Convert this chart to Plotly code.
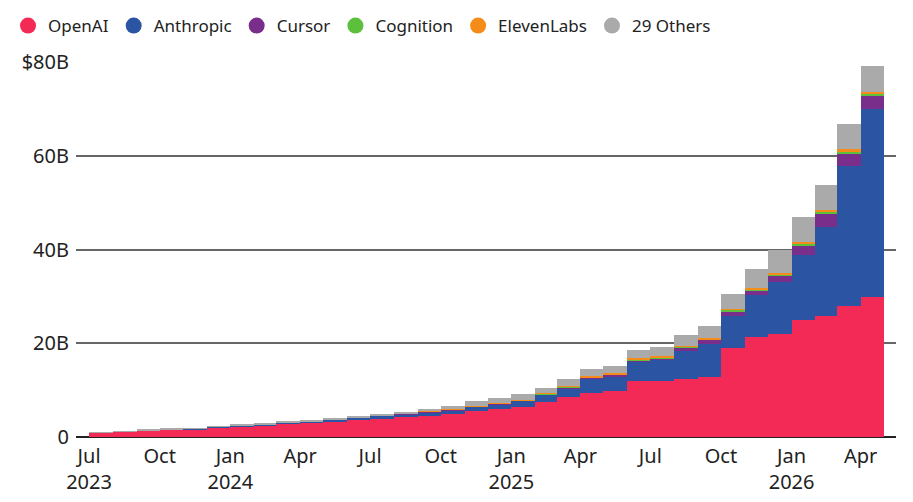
import pandas as pd
import plotly.graph_objects as go

# monthly run-rate revenue, $B
months = ["2023-07", "2023-08", "2023-09", "2023-10", "2023-11", "2023-12",
          "2024-01", "2024-02", "2024-03", "2024-04", "2024-05", "2024-06",
          "2024-07", "2024-08", "2024-09", "2024-10", "2024-11", "2024-12",
          "2025-01", "2025-02", "2025-03", "2025-04", "2025-05", "2025-06",
          "2025-07", "2025-08", "2025-09", "2025-10", "2025-11", "2025-12",
          "2026-01", "2026-02", "2026-03", "2026-04"]

openai = [0.9, 1.1, 1.3, 1.5, 1.6, 2.0, 2.3, 2.5, 2.8, 3.0, 3.3, 3.6,
          3.9, 4.2, 4.5, 4.9, 5.5, 6.0, 6.5, 7.5, 8.45, 9.4, 9.9, 12.0,
          12.0, 12.4, 12.9, 18.9, 21.3, 21.9, 24.9, 25.9, 27.9, 29.9]
anthropic = [0.05, 0.05, 0.1, 0.1, 0.15, 0.15, 0.2, 0.2, 0.25, 0.3, 0.4, 0.6,
             0.6, 0.7, 0.8, 0.85, 0.9, 1.0, 1.2, 1.5, 2.0, 3.0, 3.0, 4.0,
             4.4, 6.0, 7.0, 7.0, 9.0, 11.1, 14.0, 19.0, 30.0, 40.1]
cursor = [0, 0, 0, 0, 0, 0, 0, 0, 0, 0, 0, 0,
          0.02, 0.03, 0.05, 0.06, 0.08, 0.1, 0.1, 0.15, 0.2, 0.25, 0.35, 0.4,
          0.45, 0.6, 0.8, 0.9, 0.9, 1.4, 2.0, 2.7, 2.6, 2.7]
cognition = [0, 0, 0, 0, 0, 0, 0, 0, 0, 0, 0, 0,
             0.01, 0.02, 0.02, 0.03, 0.03, 0.03, 0.05, 0.05, 0.08, 0.1, 0.1, 0.15,
             0.15, 0.2, 0.2, 0.3, 0.3, 0.3, 0.35, 0.4, 0.4, 0.43]
elevenlabs = [0.02, 0.02, 0.02, 0.02, 0.02, 0.02, 0.05, 0.05, 0.05, 0.05, 0.05, 0.05,
              0.06, 0.07, 0.1, 0.1, 0.12, 0.13, 0.15, 0.15, 0.17, 0.2, 0.2, 0.22,
              0.25, 0.25, 0.28, 0.3, 0.33, 0.35, 0.38, 0.4, 0.45, 0.55]
others = [0.05, 0.05, 0.1, 0.1, 0.1, 0.15, 0.15, 0.2, 0.2, 0.2, 0.15, 0.2,
          0.2, 0.3, 0.6, 0.7, 1.0, 1.0, 1.1, 1.2, 1.5, 1.6, 1.6, 1.8,
          2.0, 2.4, 2.6, 3.2, 4.0, 4.8, 5.2, 5.3, 5.4, 5.5]

series = [("OpenAI", openai, "rgb(242,42,85)"),
          ("Anthropic", anthropic, "rgb(43,85,163)"),
          ("Cursor", cursor, "rgb(122,46,140)"),
          ("Cognition", cognition, "rgb(92,192,60)"),
          ("ElevenLabs", elevenlabs, "rgb(245,140,25)"),
          ("29 Others", others, "rgb(170,170,170)")]

y_ticks = [0, 20, 40, 60, 80]
y_labels = ["0", "20B", "40B", "60B", "$80B"]
x_ticks = ["2023-07", "2023-10", "2024-01", "2024-04", "2024-07", "2024-10",
           "2025-01", "2025-04", "2025-07", "2025-10", "2026-01", "2026-04"]
x_labels = ["Jul<br>2023", "Oct", "Jan<br>2024", "Apr", "Jul", "Oct",
            "Jan<br>2025", "Apr", "Jul", "Oct", "Jan<br>2026", "Apr"]

dates = pd.to_datetime(months)
# each bar covers its whole month
widths = [d.days_in_month * 86400000 for d in dates]

FONT = "Noto Sans"
TXT = "#222222"

fig = go.Figure()
for name, vals, col in series:
    fig.add_trace(go.Bar(
        x=dates, y=vals, width=widths, offset=0, name=name,
        marker=dict(color=col, line=dict(width=0)),
        showlegend=False,
    ))
    # legend dot
    fig.add_trace(go.Scatter(
        x=[None], y=[None], mode="markers", name=name,
        marker=dict(color=col, size=16, symbol="circle"),
    ))

# page body has an 8px margin, so margins are 8px smaller on top/left
fig.update_layout(
    width=913, height=502,
    barmode="stack", bargap=0,
    plot_bgcolor="white", paper_bgcolor="white",
    margin=dict(l=68, r=25, t=54, b=73, autoexpand=False),
    font=dict(family=FONT, size=20, color=TXT),
    legend=dict(orientation="h", xref="container", yref="container",
                x=-0.004, y=1.0, xanchor="left", yanchor="top",
                font=dict(family=FONT, size=17, color=TXT),
                itemwidth=30, traceorder="normal"),
)
fig.update_xaxes(
    type="date", range=["2023-06-14", "2026-05-17"],
    tickvals=pd.to_datetime(x_ticks), ticktext=x_labels,
    showgrid=False, ticks="", showline=False, zeroline=False,
    ticklabelstandoff=5,
)
fig.update_yaxes(
    range=[0, 80], tickvals=y_ticks, ticktext=y_labels,
    showgrid=True, gridcolor="#666666", gridwidth=1.5,
    zeroline=True, zerolinecolor="#222222", zerolinewidth=2,
    ticks="", ticklabelstandoff=6,
)

fig.write_html("out.html")
